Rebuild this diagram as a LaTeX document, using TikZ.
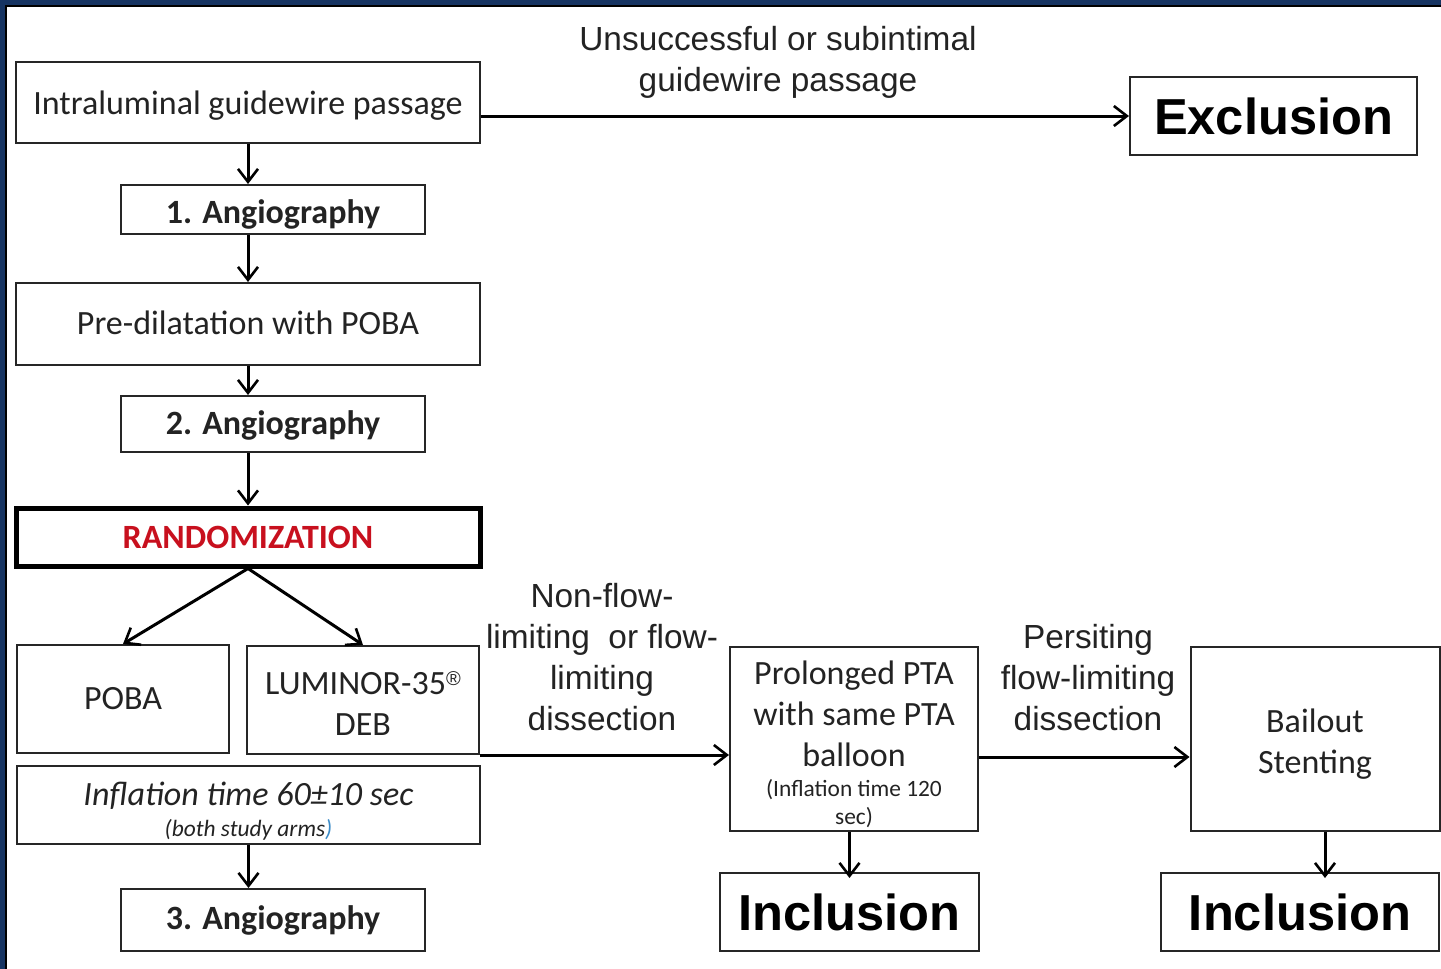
\documentclass[tikz,border=0pt]{standalone}
\usepackage{fontspec}
\setmainfont{Carlito}
\newfontfamily\arialf{Liberation Sans}
\usetikzlibrary{arrows.meta,calc}
\definecolor{navy}{RGB}{22,52,98}
\definecolor{txt}{RGB}{35,35,35}
\definecolor{randred}{RGB}{200,16,30}
\definecolor{parblue}{RGB}{60,140,200}
\begin{document}
\begin{tikzpicture}[x=0.5pt,y=-0.5pt,
 box/.style={draw=black!85, line width=1pt, fill=white, inner sep=0pt, align=center, text=txt, font=\fontsize{17}{20.5}\selectfont},
 boldbox/.style={box, font=\bfseries\fontsize{17}{20.5}\selectfont},
 conn/.style={line width=1.5pt, -{Straight Barb[length=6.5pt,width=10pt,line width=1.3pt]}},
 lbl/.style={font=\arialf\fontsize{16.7}{20.5}\selectfont, align=center, text=txt, inner sep=0pt},
 big/.style={font=\arialf\bfseries\fontsize{25.3}{30}\selectfont, text=black}
]
\useasboundingbox (0,0) rectangle (1441,969);
\fill[navy] (0,0) rectangle (1441,969);
\fill[white] (6,6) rectangle (1441,969);
\draw[black, line width=0.6pt] (6,969) -- (6,6) -- (1441,6);

\node[box, text height=15.5pt, text depth=4pt, minimum width=232pt, minimum height=40.5pt] (intra) at (248,102.5) {Intraluminal guidewire passage};
\node[boldbox, text height=15pt, text depth=1pt, minimum width=152pt, minimum height=24.5pt] (a1) at (273,209.5) {1. Angiography};
\node[box, text height=14pt, text depth=4pt, minimum width=232pt, minimum height=41pt] (pre) at (248,324) {Pre-dilatation with POBA};
\node[boldbox, text height=14pt, text depth=4pt, minimum width=152pt, minimum height=28pt] (a2) at (273,424) {2. Angiography};
\node[box, line width=2.5pt, draw=black, text=randred, font=\bfseries\fontsize{17}{20}\selectfont, minimum width=232pt, minimum height=29pt] (rand) at (248,537) {RANDOMIZATION};
\node[box, minimum width=106pt, minimum height=54pt] (poba) at (123,699) {POBA};
\node[box, minimum width=116pt, minimum height=54pt] (lum) at (363,700) {\rule{0pt}{15pt}LUMINOR-35\raisebox{0.55ex}{\arialf\fontsize{10}{10}\selectfont ®}\\DEB};
\node[box, align=flush center, text width=231.5pt, minimum height=39pt] (infl) at (248.5,805) {{\itshape\rule{0pt}{18pt}Inflation time 60±10 sec\par}{\fontsize{11.7}{15.5}\selectfont\itshape (both study arms\textcolor{parblue}{)}\par}};
\node[boldbox, minimum width=152pt, minimum height=31pt] (a3) at (273,920) {3. Angiography};
\node[box, big, minimum width=143.5pt, minimum height=39pt] (excl) at (1273.5,116) {Exclusion};
\node[box, align=flush center, text width=124pt, minimum height=92pt] (prol) at (854,739) {{\rule{0pt}{17.5pt}Prolonged PTA\\ with same PTA\\ balloon\par}\vspace{1pt}{\fontsize{11.7}{14}\selectfont (Inflation time 120\\ sec)\par}};
\node[box, minimum width=124.5pt, minimum height=92pt] (bail) at (1315,739) {\rule{0pt}{16.5pt}Bailout\\Stenting};
\node[box, big, minimum width=129.5pt, minimum height=39pt] (inc1) at (849.5,912) {Inclusion};
\node[box, big, minimum width=139pt, minimum height=39pt] (inc2) at (1300,912) {Inclusion};

\node[lbl] (lunsucc) at (778,62) {Unsuccessful or subintimal\\guidewire passage};
\node[lbl] (lnonflow) at (602,657.5) {Non-flow-\\limiting~~or flow-\\limiting\\dissection};
\node[lbl] (lpersit) at (1088,677.5) {Persiting\\flow-limiting\\dissection};

\draw[conn] (intra.south) -- (intra.south |- a1.north);
\draw[conn] (intra.south |- a1.south) -- (pre.north);
\draw[conn] (pre.south) -- (pre.south |- a2.north);
\draw[conn] (pre.south |- a2.south) -- (rand.north);
\draw[conn] (rand.south) -- (poba.north);
\draw[conn] (rand.south) -- (lum.north);
\draw[conn] (infl.south) -- (infl.south |- a3.north);
\draw[conn] (intra.east |- excl.west) -- (excl.west);
\draw[conn] (lum.south east) -- (lum.south east -| prol.west);
\draw[conn] ([yshift=-9pt]prol.east) -- ([yshift=-9pt]bail.west);
\draw[conn] (inc1.north |- prol.south) -- ([yshift=-3pt]inc1.north);
\draw[conn] ([xshift=5pt]bail.south) -- ([yshift=-3pt,xshift=5pt]bail.south |- inc2.north);
\end{tikzpicture}
\end{document}
